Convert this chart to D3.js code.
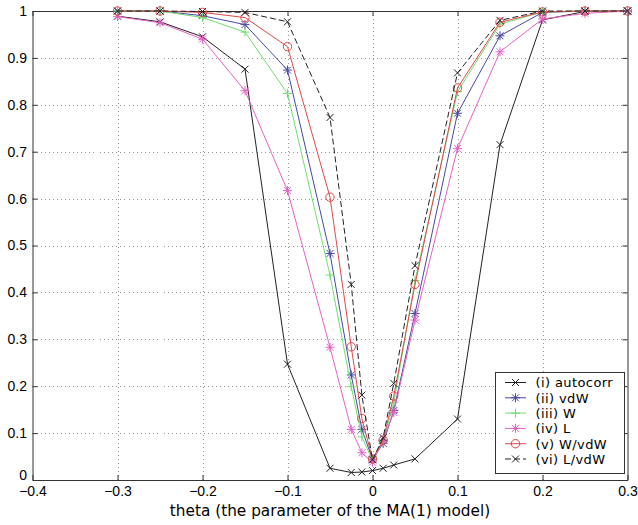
<!DOCTYPE html>
<html><head><meta charset="utf-8">
<script src="https://cdn.jsdelivr.net/npm/d3@7"></script>
<style>body{margin:0;background:#fff;}svg{display:block;font-family:"Liberation Sans",Arial,sans-serif;}</style>
</head><body>
<svg id="c" width="638" height="525"></svg>
<script>
const thetas = [-0.3,-0.25,-0.2,-0.15,-0.1,-0.05,-0.025,-0.0125,0,0.0125,0.025,0.05,0.1,0.15,0.2,0.25,0.3];
const autocorr = [0.989,0.977,0.945,0.876,0.247,0.025,0.016,0.017,0.02,0.025,0.032,0.045,0.13,0.715,0.981,0.999,1.0];
const vdW = [1.0,1.0,0.99,0.971,0.874,0.483,0.224,0.108,0.044,0.078,0.148,0.355,0.782,0.947,0.997,1.0,1.0];
const W = [1.0,1.0,0.986,0.955,0.824,0.437,0.199,0.092,0.042,0.082,0.165,0.425,0.828,0.972,0.998,1.0,1.0];
const L = [0.988,0.975,0.94,0.83,0.617,0.283,0.108,0.058,0.038,0.085,0.144,0.341,0.707,0.913,0.983,0.995,1.0];
const WvdW = [1.0,1.0,0.997,0.986,0.924,0.603,0.284,0.131,0.045,0.085,0.179,0.417,0.836,0.976,0.998,1.0,1.0];
const LvdW = [1.0,1.0,0.999,0.997,0.977,0.773,0.417,0.181,0.043,0.09,0.206,0.457,0.868,0.98,1.0,1.0,1.0];
const seriesNames = ["(i) autocorr","(ii) vdW","(iii) W","(iv) L","(v) W/vdW","(vi) L/vdW"];
const xTicks = [-0.4,-0.3,-0.2,-0.1,0,0.1,0.2,0.3];
const yTicks = [0,0.1,0.2,0.3,0.4,0.5,0.6,0.7,0.8,0.9,1];
const xLabel = "theta (the parameter of the MA(1) model)";

const series = [
  {name: seriesNames[0], values: autocorr, color: "#222", marker: "x", dash: null},
  {name: seriesNames[1], values: vdW, color: "#4848a8", marker: "star", dash: null},
  {name: seriesNames[2], values: W, color: "#70dd70", marker: "plus", dash: null},
  {name: seriesNames[3], values: L, color: "#e462c6", marker: "star", dash: null},
  {name: seriesNames[4], values: WvdW, color: "#e04848", marker: "circle", dash: null},
  {name: seriesNames[5], values: LvdW, color: "#222", marker: "x", dash: "6,3"}
];

const svg = d3.select("#c");
const m = {left: 32.5, right: 627.5, top: 11, bottom: 480};
const x = d3.scaleLinear().domain([-0.4, 0.3]).range([m.left, m.right]);
const y = d3.scaleLinear().domain([0, 1]).range([m.bottom, m.top]);

// grid
const grid = svg.append("g").attr("stroke", "#999").attr("stroke-width", 1).attr("stroke-dasharray", "1,3").attr("shape-rendering","crispEdges");
xTicks.slice(1, -1).forEach(t => grid.append("line").attr("x1", Math.round(x(t))+0.5).attr("x2", Math.round(x(t))+0.5).attr("y1", m.top).attr("y2", m.bottom));
yTicks.slice(1, -1).forEach(t => grid.append("line").attr("y1", Math.round(y(t))+0.5).attr("y2", Math.round(y(t))+0.5).attr("x1", m.left).attr("x2", m.right));

// axes
const axB = svg.append("g").attr("transform", `translate(0,${m.bottom})`)
  .call(d3.axisBottom(x).tickValues(xTicks).tickFormat(d3.format("")).tickSizeInner(-5).tickSizeOuter(0).tickPadding(6));
const axT = svg.append("g").attr("transform", `translate(0,${m.top})`)
  .call(d3.axisTop(x).tickValues(xTicks).tickFormat("").tickSizeInner(-5).tickSizeOuter(0));
const axL = svg.append("g").attr("transform", `translate(${m.left},0)`)
  .call(d3.axisLeft(y).tickValues(yTicks).tickFormat(d3.format("")).tickSizeInner(-5).tickSizeOuter(0).tickPadding(5.5));
const axR = svg.append("g").attr("transform", `translate(${m.right},0)`)
  .call(d3.axisRight(y).tickValues(yTicks).tickFormat("").tickSizeInner(-5).tickSizeOuter(0));
[axB, axT, axL, axR].forEach(a => {
  a.selectAll("path.domain").attr("stroke", "#333");
  a.selectAll(".tick line").attr("stroke", "#333");
  a.selectAll("text").attr("font-size", 14).attr("fill", "#000").attr("font-family", '"Liberation Sans",Arial,sans-serif');
});
// lift the "0" label on the y axis so it clears the x tick labels
axL.selectAll(".tick").filter(d => d === 0).select("text").attr("dy", "-0.05em");

svg.append("text").attr("x", 330).attr("y", 516).attr("text-anchor", "middle")
  .attr("font-family", '"DejaVu Sans",sans-serif').attr("font-size", 15.3).text(xLabel);

function drawMarker(g, type, cx, cy, color) {
  const s = 3.5;
  if (type === "x" || type === "star") {
    g.append("line").attr("x1", cx - s).attr("y1", cy - s).attr("x2", cx + s).attr("y2", cy + s).attr("stroke", color);
    g.append("line").attr("x1", cx - s).attr("y1", cy + s).attr("x2", cx + s).attr("y2", cy - s).attr("stroke", color);
  }
  if (type === "plus" || type === "star") {
    const p = 4.5;
    g.append("line").attr("x1", cx - p).attr("y1", cy).attr("x2", cx + p).attr("y2", cy).attr("stroke", color);
    g.append("line").attr("x1", cx).attr("y1", cy - p).attr("x2", cx).attr("y2", cy + p).attr("stroke", color);
  }
  if (type === "circle") {
    g.append("circle").attr("cx", cx).attr("cy", cy).attr("r", 4.2).attr("fill", "none").attr("stroke", color);
  }
}

const line = d3.line().x(d => x(d[0])).y(d => y(d[1]));
series.forEach(s => {
  const pts = thetas.map((t, i) => [t, s.values[i]]);
  const g = svg.append("g");
  g.append("path").attr("d", line(pts)).attr("fill", "none").attr("stroke", s.color).attr("stroke-width", 1)
    .attr("stroke-dasharray", s.dash);
  pts.forEach(p => drawMarker(g, s.marker, x(p[0]), y(p[1]), s.color));
});

// legend
const lg = svg.append("g");
lg.append("rect").attr("x", 495.5).attr("y", 372.5).attr("width", 129).attr("height", 101)
  .attr("fill", "#fff").attr("stroke", "#333");
series.forEach((s, i) => {
  const cy = 382.5 + i * 15.3;
  lg.append("line").attr("x1", 505).attr("x2", 526).attr("y1", cy).attr("y2", cy).attr("stroke", s.color)
    .attr("stroke-dasharray", s.dash);
  drawMarker(lg, s.marker, 515.5, cy, s.color);
  lg.append("text").attr("x", 535.5).attr("y", cy + 4.8).attr("font-family", '"DejaVu Sans",sans-serif')
    .attr("font-size", 13).attr("letter-spacing", 0.4).text(s.name);
});
</script>
</body></html>
